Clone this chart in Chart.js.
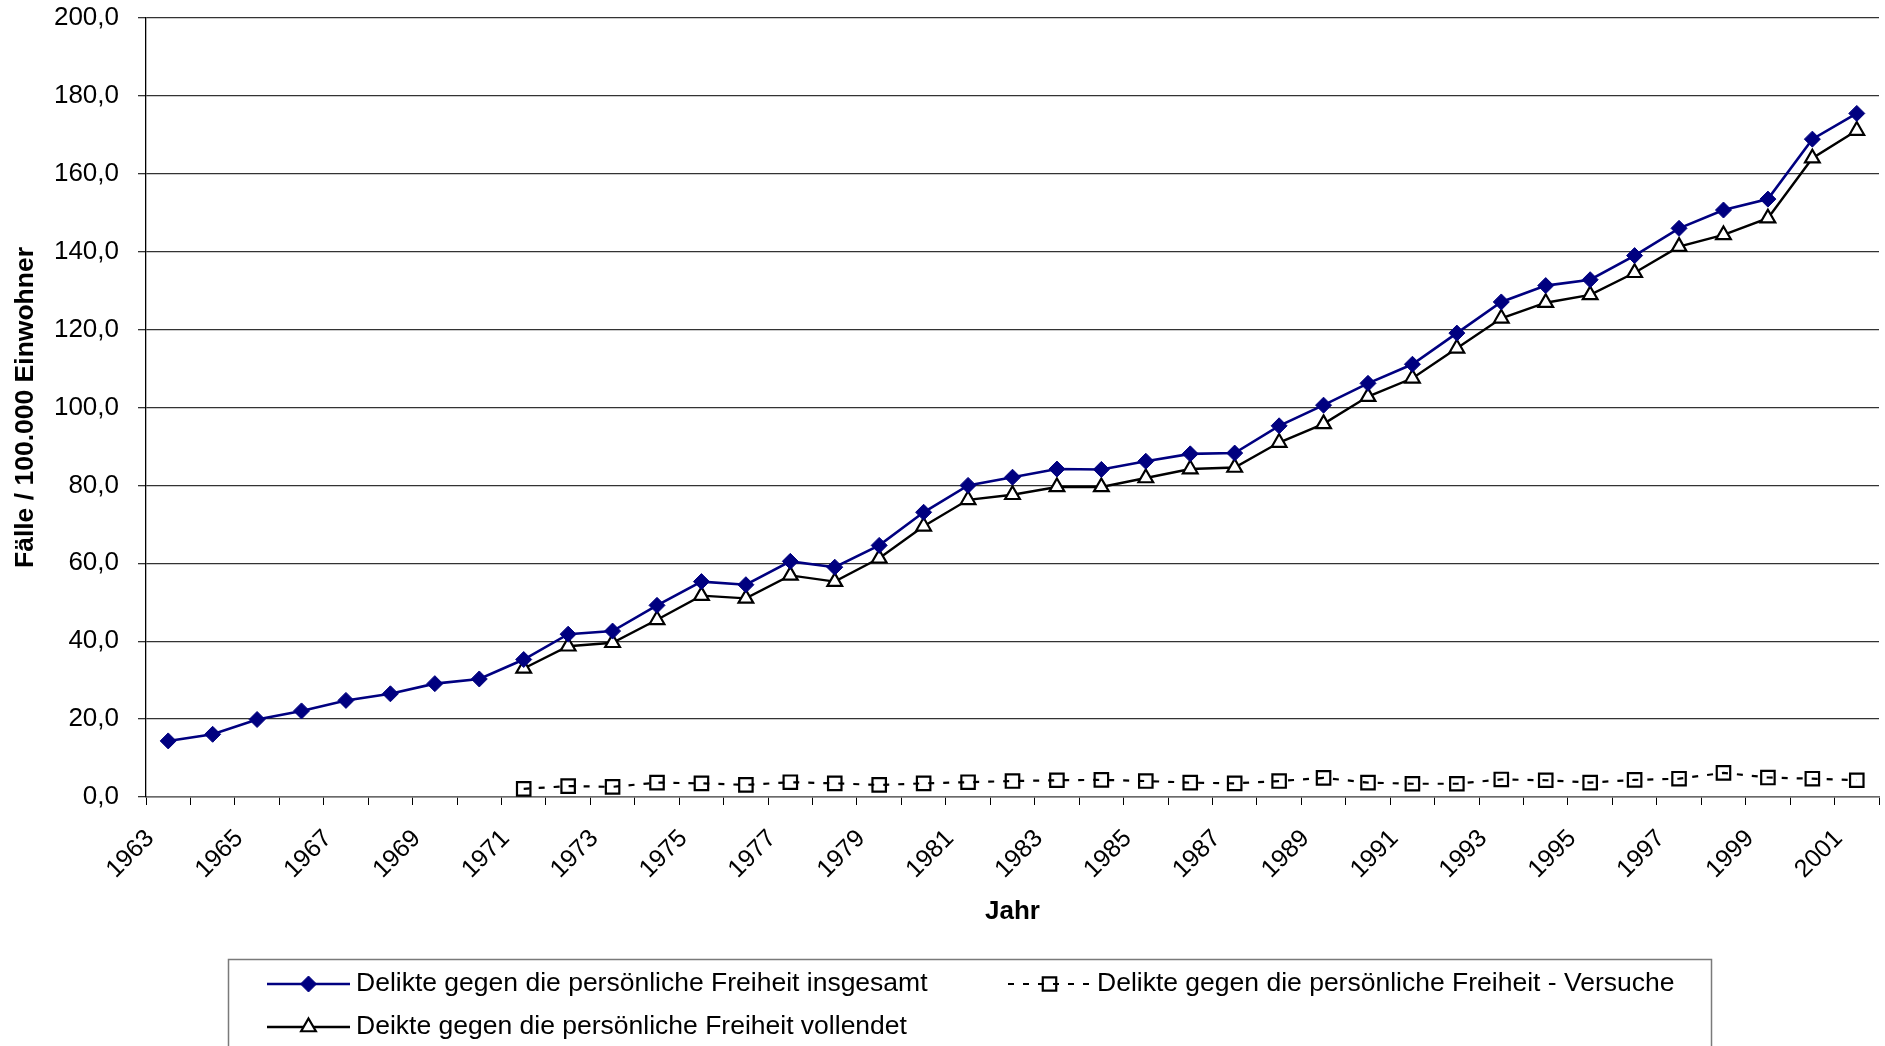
<!DOCTYPE html>
<html lang="de">
<head>
<meta charset="utf-8">
<title>Delikte gegen die persönliche Freiheit</title>
<script src="https://cdn.jsdelivr.net/npm/chart.js@4/dist/chart.umd.min.js"></script>
<style>
  html, body { margin: 0; padding: 0; background: #fff; }
  canvas { display: block; }
</style>
</head>
<body>
<canvas id="chart" width="1885" height="1046"></canvas>
<script>
// Jahre (Kategorien der x-Achse)
const years = [
  '1963','1964','1965','1966','1967','1968','1969','1970','1971','1972',
  '1973','1974','1975','1976','1977','1978','1979','1980','1981','1982',
  '1983','1984','1985','1986','1987','1988','1989','1990','1991','1992',
  '1993','1994','1995','1996','1997','1998','1999','2000','2001'
];

// Fälle je 100.000 Einwohner
const insgesamt = [
  14.4, 16.1, 19.9, 22.1, 24.8, 26.5, 29.1, 30.3, 35.3, 41.8,
  42.6, 49.2, 55.3, 54.5, 60.5, 59.0, 64.6, 73.1, 80.0, 82.1,
  84.2, 84.1, 86.2, 88.1, 88.3, 95.3, 100.6, 106.2, 111.1, 119.1,
  127.1, 131.3, 132.8, 139.0, 146.0, 150.7, 153.5, 168.9, 175.5
];

const versuche = [
  null, null, null, null, null, null, null, null, 2.1, 2.8,
  2.6, 3.7, 3.5, 3.1, 3.8, 3.5, 3.1, 3.5, 3.8, 4.1,
  4.3, 4.4, 4.1, 3.7, 3.5, 4.1, 4.9, 3.7, 3.4, 3.4,
  4.5, 4.3, 3.7, 4.4, 4.7, 6.2, 5.0, 4.7, 4.3
];

const vollendet = [
  null, null, null, null, null, null, null, null, 33.0, 38.7,
  39.6, 45.5, 51.7, 51.0, 56.9, 55.3, 61.3, 69.5, 76.3, 77.6,
  79.6, 79.6, 81.9, 84.2, 84.6, 91.0, 95.8, 102.8, 107.5, 115.2,
  122.9, 126.9, 128.9, 134.6, 141.3, 144.3, 148.6, 164.0, 171.1
];

// Achsenbereich der y-Achse
const yMin = 0;
const yMax = 200;
const yStep = 20;

const seriesNames = [
  'Delikte gegen die persönliche Freiheit insgesamt',
  'Delikte gegen die persönliche Freiheit - Versuche',
  'Deikte gegen die persönliche Freiheit vollendet'
];

const FONT = '"Liberation Sans", Arial, Helvetica, sans-serif';
Chart.defaults.font.family = FONT;
Chart.defaults.color = '#000';

const fmt = v => v.toFixed(1).replace('.', ',');

// Legende im Kasten unter dem Diagramm (Linienmuster + Marker wie im Plot)
const boxedLegend = {
  id: 'boxedLegend',
  afterDraw(chart) {
    const ctx = chart.ctx;
    ctx.save();
    ctx.strokeStyle = '#7a7a7a';
    ctx.lineWidth = 1.5;
    ctx.strokeRect(228.5, 959.5, 1483, 140);

    const slots = [
      { ds: 0, x: 267, y: 984 },
      { ds: 1, x: 1008, y: 984 },
      { ds: 2, x: 267, y: 1027 }
    ];
    const lineLen = 83;
    slots.forEach(s => {
      const ds = chart.data.datasets[s.ds];
      ctx.save();
      ctx.strokeStyle = ds.borderColor;
      ctx.lineWidth = ds.borderWidth;
      ctx.setLineDash(ds.borderDash || []);
      ctx.beginPath();
      ctx.moveTo(s.x, s.y);
      ctx.lineTo(s.x + lineLen, s.y);
      ctx.stroke();
      ctx.setLineDash([]);
      ctx.fillStyle = ds.pointBackgroundColor;
      ctx.strokeStyle = ds.pointBorderColor;
      ctx.lineWidth = ds.pointBorderWidth;
      Chart.helpers.drawPoint(ctx, {
        pointStyle: ds.pointStyle,
        rotation: 0,
        radius: ds.pointRadius,
        borderWidth: ds.pointBorderWidth
      }, s.x + lineLen / 2, s.y);
      ctx.restore();

      ctx.fillStyle = '#000';
      ctx.font = '26.5px ' + FONT;
      ctx.textBaseline = 'middle';
      ctx.textAlign = 'left';
      ctx.fillText(ds.label, s.x + lineLen + 6, s.y);
    });
    ctx.restore();
  }
};

new Chart(document.getElementById('chart'), {
  type: 'line',
  data: {
    labels: years,
    datasets: [
      {
        label: seriesNames[0],
        data: insgesamt,
        borderColor: '#000080',
        borderWidth: 2.6,
        pointStyle: 'rectRot',
        pointRadius: 8,
        pointBackgroundColor: '#000080',
        pointBorderColor: '#000080',
        pointBorderWidth: 1,
        tension: 0
      },
      {
        label: seriesNames[1],
        data: versuche,
        borderColor: '#000',
        borderWidth: 2.2,
        borderDash: [6, 9],
        pointStyle: 'rect',
        pointRadius: 9.5,
        pointBackgroundColor: 'rgba(0,0,0,0)',
        pointBorderColor: '#000',
        pointBorderWidth: 2.2,
        tension: 0
      },
      {
        label: seriesNames[2],
        data: vollendet,
        borderColor: '#000',
        borderWidth: 2.4,
        pointStyle: 'triangle',
        pointRadius: 8.5,
        pointBackgroundColor: '#fff',
        pointBorderColor: '#000',
        pointBorderWidth: 2.2,
        tension: 0
      }
    ]
  },
  options: {
    responsive: false,
    devicePixelRatio: 1,
    animation: false,
    layout: {
      autoPadding: false,
      padding: { left: 0, right: 6, top: 18, bottom: 109 }
    },
    plugins: {
      legend: { display: false },
      tooltip: { enabled: false }
    },
    scales: {
      x: {
        offset: true,
        grid: {
          display: true,
          offset: true,
          drawOnChartArea: false,
          drawTicks: true,
          tickLength: 8,
          color: '#000',
          lineWidth: 1
        },
        border: { display: true, color: '#6a6a6a', width: 1.5 },
        ticks: {
          autoSkip: false,
          maxRotation: 45,
          minRotation: 45,
          padding: 19,
          labelOffset: -18,
          font: { size: 25 },
          callback: (v, i) => (i % 2 === 0 ? years[i] : '')
        },
        title: {
          display: true,
          text: 'Jahr',
          font: { size: 26, weight: 'bold' },
          padding: { top: 0, bottom: 10 }
        },
        afterFit: s => {
          s.height = 140;
          s.paddingLeft = 0;
          s.paddingRight = 0;
        }
      },
      y: {
        min: yMin,
        max: yMax,
        grid: {
          color: '#333',
          lineWidth: 1.3,
          drawTicks: true,
          tickLength: 8
        },
        border: { display: true, color: '#000', width: 1.3 },
        ticks: {
          stepSize: yStep,
          padding: 19,
          font: { size: 26 },
          callback: v => fmt(v)
        },
        title: {
          display: true,
          text: 'Fälle / 100.000 Einwohner',
          font: { size: 26.5, weight: 'bold' },
          padding: { top: 10, bottom: 0 }
        },
        afterFit: s => {
          s.width = 146;
          s.paddingTop = 0;
          s.paddingBottom = 0;
        }
      }
    }
  },
  plugins: [boxedLegend]
});
</script>
</body>
</html>
